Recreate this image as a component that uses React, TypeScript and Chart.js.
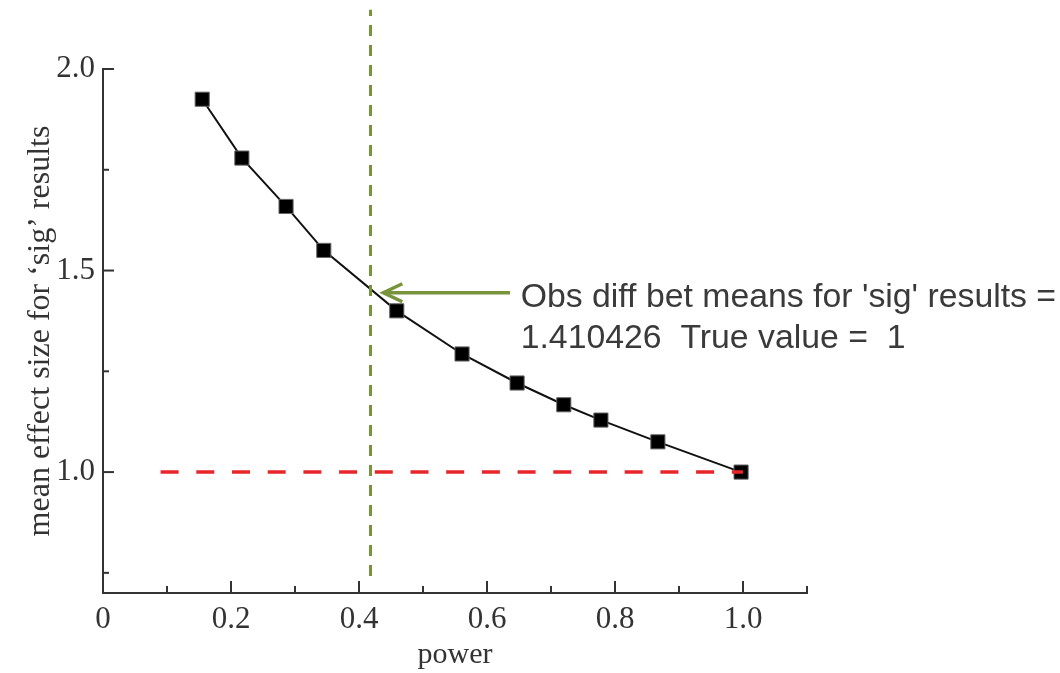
import React, { useEffect, useRef } from "react";
import { Chart, registerables } from "chart.js";

Chart.register(...registerables);

// ---- data ----
const powerValues = [0.155, 0.217, 0.286, 0.345, 0.459, 0.561, 0.647, 0.72, 0.778, 0.867, 0.997];
const effectSizes = [1.925, 1.779, 1.659, 1.55, 1.4, 1.293, 1.221, 1.167, 1.129, 1.075, 1.0];

const trueValueLineX = [0.09, 1.0];
const trueValueLineY = [1.0, 1.0];

const powerMarkerX = [0.418, 0.418];
const powerMarkerY = [0.742, 2.147];

const xTickValues = [0, 0.2, 0.4, 0.6, 0.8, 1.0];
const yTickValues = [1.0, 1.5, 2.0];

const annotationLines = ["Obs diff bet means for 'sig' results =", "1.410426  True value =  1"];
const annotationAnchor = [0.6526, 1.4104]; // x value, y value of first baseline
const arrowFrom = [0.636, 1.445];
const arrowTo = [0.438, 1.445];

const near = (a: number, b: number) => Math.abs(a - b) < 1e-6;

const inwardTicks = {
  id: "inwardTicks",
  afterDraw(chart: any) {
    const ctx = chart.ctx;
    const xs = chart.scales.x;
    const ys = chart.scales.y;
    const area = chart.chartArea;
    ctx.save();
    ctx.strokeStyle = "#333";
    ctx.lineWidth = 2;
    xs.ticks.forEach((t: any) => {
      const major = xTickValues.some((v) => near(v, t.value));
      const px = xs.getPixelForValue(t.value);
      const len = major ? 12 : 7;
      ctx.beginPath();
      ctx.moveTo(px, area.bottom);
      ctx.lineTo(px, area.bottom - len);
      ctx.stroke();
    });
    ys.ticks.forEach((t: any) => {
      const major = yTickValues.some((v) => near(v, t.value));
      const py = ys.getPixelForValue(t.value);
      const len = major ? 11 : 6;
      ctx.beginPath();
      ctx.moveTo(area.left, py);
      ctx.lineTo(area.left + len, py);
      ctx.stroke();
    });

    // arrow
    const x1 = xs.getPixelForValue(arrowFrom[0]);
    const y1 = ys.getPixelForValue(arrowFrom[1]);
    const x2 = xs.getPixelForValue(arrowTo[0]);
    const y2 = ys.getPixelForValue(arrowTo[1]);
    ctx.strokeStyle = "#77933c";
    ctx.lineWidth = 3.5;
    ctx.lineCap = "butt";
    ctx.beginPath();
    ctx.moveTo(x1, y1);
    ctx.lineTo(x2 + 2, y2);
    ctx.stroke();
    ctx.beginPath();
    ctx.moveTo(x2 + 19, y2 - 9);
    ctx.lineTo(x2, y2);
    ctx.lineTo(x2 + 19, y2 + 9);
    ctx.stroke();

    // text
    ctx.fillStyle = "#3a3a3a";
    ctx.font = "33.8px 'Liberation Sans', Arial, sans-serif";
    ctx.textAlign = "left";
    ctx.textBaseline = "alphabetic";
    const tx = xs.getPixelForValue(annotationAnchor[0]);
    const ty = ys.getPixelForValue(annotationAnchor[1]);
    annotationLines.forEach((line, i) => {
      ctx.fillText(line, tx, ty + i * 41);
    });
    ctx.restore();
  },
};

export default function App() {
  const ref = useRef<HTMLCanvasElement | null>(null);
  useEffect(() => {
    document.body.style.margin = "0";
    if (!ref.current) return;
    const serif = "'Liberation Serif', 'Times New Roman', serif";
    const chart = new Chart(ref.current, {
      type: "scatter",
      data: {
        datasets: [
          {
            label: "true value",
            data: trueValueLineX.map((x, i) => ({ x, y: trueValueLineY[i] })),
            showLine: true,
            borderColor: "#e8262a",
            borderWidth: 3.5,
            borderDash: [18, 17.7],
            pointRadius: 0,
            order: 0,
          } as any,
          {
            label: "power marker",
            data: powerMarkerX.map((x, i) => ({ x, y: powerMarkerY[i] })),
            showLine: true,
            borderColor: "#77933c",
            borderWidth: 3,
            borderDash: [11, 9],
            pointRadius: 0,
            clip: false,
            order: 1,
          } as any,
          {
            label: "mean effect size",
            data: powerValues.map((x, i) => ({ x, y: effectSizes[i] })),
            showLine: true,
            borderColor: "#111",
            borderWidth: 2,
            pointStyle: "rect",
            pointRadius: 10,
            pointBackgroundColor: "#000",
            pointBorderColor: "#666",
            pointBorderWidth: 1,
            order: 2,
          } as any,
        ],
      },
      options: {
        responsive: false,
        animation: false,
        events: [],
        layout: { padding: { top: 69, right: 253, left: 0, bottom: 0 } },
        plugins: { legend: { display: false }, tooltip: { enabled: false } },
        scales: {
          x: {
            type: "linear",
            min: 0,
            max: 1.1,
            grid: { display: false, drawTicks: false, tickLength: 0 },
            border: { display: true, color: "#333", width: 2 },
            ticks: {
              stepSize: 0.1,
              includeBounds: false,
              padding: 8,
              color: "#333",
              font: { family: serif, size: 31 },
              callback: (v: any) => {
                const n = Number(v);
                if (!xTickValues.some((t) => near(t, n))) return "";
                return near(n, 0) ? "0" : n.toFixed(1);
              },
            },
            title: {
              display: true,
              text: "power",
              color: "#333",
              font: { family: serif, size: 30 },
              padding: { top: 0, bottom: 0 },
            },
            afterFit: (s: any) => {
              s.height = 80;
            },
          },
          y: {
            type: "linear",
            min: 0.7,
            max: 2.0,
            grid: { display: false, drawTicks: false, tickLength: 0 },
            border: { display: true, color: "#333", width: 2 },
            ticks: {
              stepSize: 0.25,
              includeBounds: false,
              padding: 8,
              color: "#333",
              font: { family: serif, size: 31 },
              callback: (v: any) => {
                const n = Number(v);
                if (!yTickValues.some((t) => near(t, n))) return "";
                return n.toFixed(1);
              },
            },
            title: {
              display: true,
              text: "mean effect size for \u2018sig\u2019 results",
              color: "#333",
              font: { family: serif, size: 32 },
              padding: { top: 21, bottom: 0 },
            },
            afterFit: (s: any) => {
              s.width = 103;
            },
          },
        },
      },
      plugins: [inwardTicks],
    });
    return () => chart.destroy();
  }, []);
  return (
    <div style={{ width: 1060, height: 673 }}>
      <canvas ref={ref} width={1060} height={673} style={{ display: "block" }} />
    </div>
  );
}
